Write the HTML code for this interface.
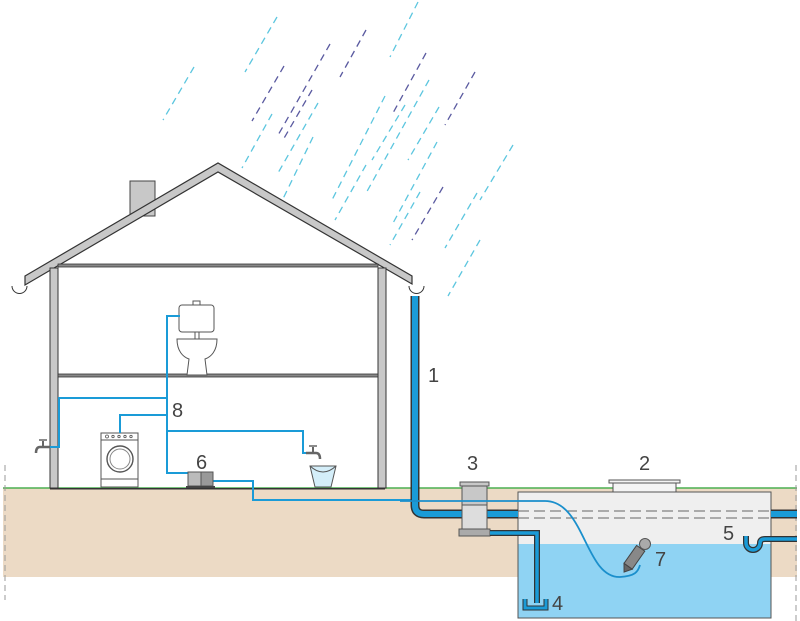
<!DOCTYPE html>
<html><head><meta charset="utf-8"><style>html,body{margin:0;padding:0;background:#fff}svg{display:block}text{font-family:"Liberation Sans",sans-serif;fill:#444;font-size:20px}</style></head><body>
<svg width="800" height="621" viewBox="0 0 800 621" xmlns="http://www.w3.org/2000/svg">
<rect width="800" height="621" fill="#fff"/>
<g stroke-width="1.3" stroke-dasharray="7,5" fill="none">
<g stroke="#5cc6df">
<line x1="194" y1="67" x2="163" y2="120"/><line x1="277" y1="17" x2="245" y2="72"/>
<line x1="418" y1="2" x2="390" y2="57"/><line x1="318" y1="103" x2="278" y2="173"/>
<line x1="272" y1="114" x2="242" y2="168"/><line x1="385" y1="96" x2="332" y2="200"/>
<line x1="429" y1="80" x2="365" y2="195"/><line x1="439" y1="107" x2="408" y2="160"/>
<line x1="366" y1="165" x2="335" y2="220"/><line x1="437" y1="142" x2="392" y2="225"/>
<line x1="513" y1="145" x2="480" y2="200"/><line x1="477" y1="193" x2="445" y2="248"/>
<line x1="420" y1="192" x2="390" y2="245"/><line x1="313" y1="137" x2="280" y2="205"/>
<line x1="480" y1="240" x2="448" y2="296"/><line x1="405" y1="105" x2="372" y2="160"/>
</g>
<g stroke="#5a5aa0">
<line x1="284" y1="66" x2="252" y2="121"/><line x1="330" y1="44" x2="277" y2="137"/>
<line x1="366" y1="30" x2="340" y2="77"/><line x1="426" y1="53" x2="393" y2="113"/>
<line x1="312" y1="90" x2="283" y2="140"/><line x1="475" y1="72" x2="445" y2="125"/>
<line x1="443" y1="187" x2="412" y2="240"/>
</g></g>
<rect x="3" y="488" width="794" height="89" fill="#ecdac5"/>
<line x1="3" y1="488" x2="797" y2="488" stroke="#4caf50" stroke-width="1.5"/>
<line x1="5" y1="465" x2="5" y2="600" stroke="#999" stroke-dasharray="6,4"/>
<line x1="796" y1="465" x2="796" y2="621" stroke="#999" stroke-dasharray="6,4"/>
<rect x="50" y="488" width="335" height="1.5" fill="#333"/>
<rect x="130" y="181" width="25" height="35" fill="#c8c8c8" stroke="#444"/>
<polygon points="25,276 218,163 412,276 412,284 218,172 25,285" fill="#c8c8c8" stroke="#333" stroke-width="1.2"/>
<rect x="50" y="268" width="8" height="220" fill="#c8c8c8" stroke="#333"/>
<rect x="378" y="268" width="8" height="220" fill="#c8c8c8" stroke="#333"/>
<rect x="58" y="264" width="320" height="3" fill="#888" stroke="#333" stroke-width=".8"/>
<rect x="58" y="374" width="320" height="3" fill="#888" stroke="#333" stroke-width=".8"/>
<path d="M12,286 a7.5,7.5 0 0 0 15,0" fill="none" stroke="#333"/>
<path d="M409,286 a7.5,7.5 0 0 0 15,0" fill="none" stroke="#333"/>
<rect x="179" y="305" width="35" height="27" rx="3" fill="#fff" stroke="#555"/>
<rect x="193" y="301" width="7" height="4" fill="#fff" stroke="#555"/>
<rect x="195" y="332" width="4" height="7" fill="#fff" stroke="#555"/>
<path d="M177,339 h40 c0,12 -6,18 -12,20 l2,16 h-20 l2,-16 c-6,-2 -12,-8 -12,-20z" fill="#fff" stroke="#555"/>
<rect x="101" y="433" width="37" height="54" fill="#fff" stroke="#555"/>
<line x1="101" y1="440" x2="138" y2="440" stroke="#555"/><line x1="101" y1="479" x2="138" y2="479" stroke="#555"/>
<circle cx="120" cy="459" r="13" fill="#fff" stroke="#555" stroke-width="1.4"/><circle cx="120" cy="459" r="10" fill="none" stroke="#888"/>
<g fill="none" stroke="#555" stroke-width=".8"><circle cx="107" cy="436.5" r="1.5"/><circle cx="113" cy="436.5" r="1.2"/><circle cx="119" cy="436.5" r="1.2"/><circle cx="125" cy="436.5" r="1.2"/><circle cx="131" cy="436.5" r="1.2"/></g>
<path d="M310,466 h26 l-5,21 h-16z" fill="#d4eef9" stroke="#555"/>
<path d="M310,466 q13,12 26,0" fill="none" stroke="#555"/>
<path d="M50,447 h-10 q-4,0 -4,6" fill="none" stroke="#666" stroke-width="2.5"/><line x1="43" y1="441" x2="43" y2="446" stroke="#666" stroke-width="2"/><line x1="39" y1="440" x2="47" y2="440" stroke="#666" stroke-width="1.5"/>
<path d="M306,453 h10 q4,0 4,6" fill="none" stroke="#666" stroke-width="2.5"/><line x1="313" y1="447" x2="313" y2="452" stroke="#666" stroke-width="2"/><line x1="309" y1="446" x2="317" y2="446" stroke="#666" stroke-width="1.5"/>
<g fill="none" stroke="#1a9bd7" stroke-width="2">
<path d="M180,316 H167 V473 H188"/>
<path d="M167,398 H59 V447 H50"/>
<path d="M167,415 H120 V433"/>
<path d="M167,431 H303 V453 H306"/>
<path d="M213,481 H253 V500 H411"/>
</g>
<rect x="188" y="472" width="13" height="14" fill="#bbb" stroke="#555"/>
<rect x="201" y="472" width="12" height="14" fill="#999" stroke="#555"/>
<rect x="186" y="486" width="29" height="2" fill="#444"/>
<rect x="518" y="492" width="253" height="52" fill="#efefef"/>
<rect x="518" y="544" width="253" height="74" fill="#8fd3f3"/>
<rect x="518" y="492" width="253" height="126" fill="none" stroke="#555"/>
<rect x="613" y="483" width="63" height="9" fill="#f4f4f4" stroke="#555"/>
<rect x="609" y="480" width="71" height="3" fill="#f4f4f4" stroke="#555"/>
<line x1="518" y1="511" x2="771" y2="511" stroke="#666" stroke-dasharray="11,5"/>
<line x1="518" y1="518" x2="771" y2="518" stroke="#666" stroke-dasharray="11,5"/>
<path d="M415,296 V505 q0,9 9,9 H462" fill="none" stroke="#333" stroke-width="9"/>
<path d="M415,296 V505 q0,9 9,9 H462" fill="none" stroke="#1a9bd7" stroke-width="6"/>
<line x1="487" y1="514" x2="518" y2="514" stroke="#333" stroke-width="9"/><line x1="487" y1="514" x2="518" y2="514" stroke="#1a9bd7" stroke-width="6"/>
<line x1="771" y1="514" x2="797" y2="514" stroke="#333" stroke-width="9"/><line x1="771" y1="514" x2="797" y2="514" stroke="#1a9bd7" stroke-width="6"/>
<rect x="462" y="485" width="25" height="20" fill="#c8c8c8" stroke="#555"/>
<rect x="460" y="482" width="29" height="4" fill="#c8c8c8" stroke="#555"/>
<rect x="462" y="505" width="25" height="24" fill="#ddd" stroke="#555"/>
<rect x="459" y="529" width="31" height="7" fill="#aaa" stroke="#555"/>
<path d="M490,533 H537 V603" fill="none" stroke="#333" stroke-width="6"/>
<path d="M490,533 H537 V603" fill="none" stroke="#1a9bd7" stroke-width="3.5"/>
<path d="M525,599 v9 h21 v-9" fill="none" stroke="#333" stroke-width="5"/>
<path d="M525,599 v9 h21 v-9" fill="none" stroke="#1a9bd7" stroke-width="3"/>
<path d="M400,501 H545 C585,501 585,578 620,577 C635,576 638,572 640,565" fill="none" stroke="#1a8fcc" stroke-width="1.8"/>
<g transform="translate(643,545) rotate(35)"><rect x="-5" y="4" width="10" height="22" fill="#888" stroke="#444"/><polygon points="-5,26 5,26 0,33" fill="#666" stroke="#444"/></g>
<circle cx="645" cy="544" r="5.5" fill="#aaa" stroke="#555"/>
<path d="M746,536 v7 a7,7 0 0 0 14,0 q0,-4 5,-4 H797" fill="none" stroke="#333" stroke-width="6"/>
<path d="M746,536 v7 a7,7 0 0 0 14,0 q0,-4 5,-4 H797" fill="none" stroke="#1a9bd7" stroke-width="3.5"/>
<text x="428" y="382">1</text><text x="639" y="470">2</text><text x="467" y="470">3</text>
<text x="552" y="610">4</text><text x="723" y="540">5</text><text x="196" y="469">6</text>
<text x="655" y="566">7</text><text x="172" y="417">8</text>
</svg>
</body></html>
